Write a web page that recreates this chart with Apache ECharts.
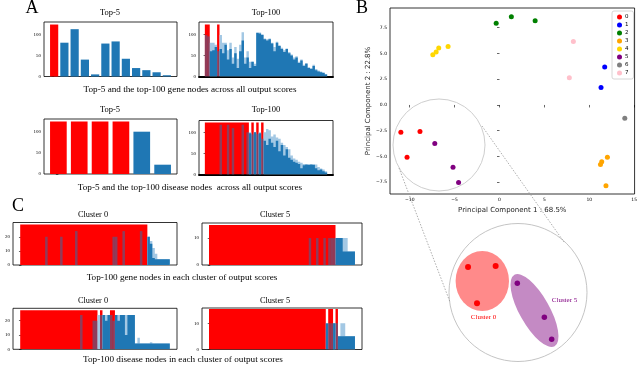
<!DOCTYPE html>
<html>
<head>
<meta charset="utf-8">
<script src="https://cdn.jsdelivr.net/npm/echarts@6/dist/echarts.min.js"></script>
<style>
  html, body { margin: 0; padding: 0; background: #fff; }
  #main { width: 640px; height: 367px; }
</style>
</head>
<body>
<div id="main"></div>
<script>
// ---- panel A: top-5 / top-100 bars ----
const geneTop5Red  = [123, 0, 0, 0, 0, 0, 0, 0, 0, 0, 0, 0];
const geneTop5Blue = [0, 80, 112, 40, 5, 78, 83, 42, 20, 15, 10, 3];

const disTop5Red  = [124, 124, 124, 124, 0, 0];
const disTop5Blue = [0, 0, 0, 0, 100, 22];

const geneTop100Red = [
  123, 123, 0, 0, 0, 123, 0, 0, 0, 0,
  0, 0, 0, 0, 0, 0, 0, 0, 0, 0,
  0, 0, 0, 0, 0, 0, 0, 0, 0, 0,
  0, 0, 0, 0, 0, 0, 0, 0, 0, 0,
  0, 0, 0, 0, 0, 0, 0, 0, 0, 0];
const geneTop100Dark = [
  98, 95, 60, 62, 70, 60, 65, 55, 75, 40,
  65, 30, 55, 20, 60, 85, 30, 45, 20, 35,
  25, 103, 102, 98, 88, 85, 88, 78, 60, 80,
  72, 65, 58, 65, 55, 50, 40, 45, 32, 38,
  25, 30, 20, 18, 25, 15, 12, 10, 8, 5];
const geneTop100Light = [
  0, 0, 80, 80, 75, 0, 98, 80, 80, 62,
  80, 45, 70, 42, 75, 105, 45, 60, 35, 35,
  30, 105, 104, 100, 90, 88, 90, 80, 70, 82,
  74, 68, 62, 66, 58, 52, 45, 48, 35, 40,
  28, 32, 22, 20, 28, 18, 14, 12, 10, 6];

const disTop100Red = [
  123, 123, 123, 123, 123, 123, 123, 123, 123, 123,
  123, 123, 123, 123, 123, 123, 123, 123, 0, 123,
  0, 123, 0, 123, 0, 0, 0, 0, 0, 0,
  0, 0, 0, 0, 0, 0, 0, 0, 0, 0,
  0, 0, 0, 0, 0, 0, 0, 0, 0, 0];
const disTop100Dark = [
  0, 0, 0, 0, 0, 0, 118, 0, 0, 118,
  0, 110, 0, 0, 0, 118, 0, 100, 98, 95,
  100, 96, 98, 85, 80, 70, 85, 75, 65, 80,
  55, 70, 45, 60, 40, 35, 30, 28, 25, 15,
  22, 24, 23, 24, 23, 15, 10, 12, 8, 5];
const disTop100Light = [
  0, 0, 0, 0, 0, 0, 0, 0, 0, 0,
  0, 0, 0, 0, 0, 0, 0, 0, 100, 0,
  100, 0, 100, 0, 100, 108, 105, 90, 95, 88,
  85, 75, 70, 65, 60, 45, 38, 35, 30, 28,
  25, 24, 24, 24, 24, 24, 18, 14, 12, 8];

// ---- panel C: top-100 per cluster ----
const c0GeneRed = [
  28.7, 28.7, 28.7, 28.7, 28.7, 28.7, 28.7, 28.7, 28.7, 28.7,
  28.7, 28.7, 28.7, 28.7, 28.7, 28.7, 28.7, 28.7, 28.7, 28.7,
  28.7, 28.7, 28.7, 28.7, 28.7, 28.7, 28.7, 28.7, 28.7, 28.7,
  28.7, 28.7, 28.7, 28.7, 28.7, 28.7, 28.7, 28.7, 28.7, 28.7,
  28.7, 28.7, 28.7, 28.7, 28.7, 28.7, 28.7, 28.7, 28.7, 28.7,
  28.7, 0, 0, 0, 0, 0, 0, 0, 0, 0];
const c0GeneDark = [
  0, 0, 0, 0, 0, 0, 0, 0, 0, 0,
  20, 0, 0, 0, 0, 0, 20, 0, 0, 0,
  0, 0, 24, 0, 0, 0, 0, 0, 0, 0,
  0, 0, 0, 0, 0, 0, 0, 20, 20, 0,
  0, 24, 0, 0, 0, 0, 0, 0, 24, 0,
  0, 20, 15, 5, 4, 4, 4, 4, 4, 4];
const c0GeneLight = [
  0, 0, 0, 0, 0, 0, 0, 0, 0, 0,
  0, 0, 0, 0, 0, 0, 0, 0, 0, 0,
  0, 0, 0, 0, 0, 0, 0, 0, 0, 0,
  0, 0, 0, 0, 0, 0, 0, 0, 0, 0,
  0, 0, 0, 0, 0, 0, 0, 0, 0, 0,
  0, 20, 17, 12, 8, 4, 4, 4, 4, 4];

const c5GeneRed = [
  14.9, 14.9, 14.9, 14.9, 14.9, 14.9, 14.9, 14.9, 14.9, 14.9,
  14.9, 14.9, 14.9, 14.9, 14.9, 14.9, 14.9, 14.9, 14.9, 14.9,
  14.9, 14.9, 14.9, 14.9, 14.9, 14.9, 14.9, 14.9, 14.9, 14.9,
  14.9, 14.9, 14.9, 14.9, 14.9, 14.9, 14.9, 14.9, 14.9, 14.9,
  14.9, 14.9, 14.9, 14.9, 14.9, 14.9, 14.9, 14.9, 14.9, 14.9,
  14.9, 14.9, 0, 0, 0, 0, 0, 0, 0, 0];
const c5GeneDark = [
  0, 0, 0, 0, 0, 0, 0, 0, 0, 0,
  0, 0, 0, 0, 0, 0, 0, 0, 0, 0,
  0, 0, 0, 0, 0, 0, 0, 0, 0, 0,
  0, 0, 0, 0, 0, 0, 0, 0, 0, 0,
  0, 10, 0, 0, 10, 0, 0, 10, 0, 10,
  10, 10, 10, 10, 10, 5, 5, 5, 5, 5];
const c5GeneLight = [
  0, 0, 0, 0, 0, 0, 0, 0, 0, 0,
  0, 0, 0, 0, 0, 0, 0, 0, 0, 0,
  0, 0, 0, 0, 0, 0, 0, 0, 0, 0,
  0, 0, 0, 0, 0, 0, 0, 0, 0, 0,
  0, 0, 0, 0, 0, 0, 0, 0, 0, 0,
  0, 0, 0, 0, 0, 10, 10, 5, 5, 5];

const c0DisRed = [
  27.3, 27.3, 27.3, 27.3, 27.3, 27.3, 27.3, 27.3, 27.3, 27.3,
  27.3, 27.3, 27.3, 27.3, 27.3, 27.3, 27.3, 27.3, 27.3, 27.3,
  27.3, 27.3, 27.3, 27.3, 27.3, 27.3, 27.3, 27.3, 27.3, 27.3,
  27.3, 0, 27.3, 0, 0, 0, 27.3, 27.3, 0, 0,
  0, 0, 0, 0, 0, 0, 0, 0, 0, 0,
  0, 0, 0, 0, 0, 0, 0, 0, 0, 0];
const c0DisDark = [
  0, 0, 0, 0, 0, 0, 0, 0, 0, 0,
  0, 0, 0, 0, 0, 0, 0, 0, 0, 0,
  0, 0, 0, 0, 24, 0, 0, 0, 0, 20,
  20, 0, 24, 24, 20, 24, 24, 20, 24, 20,
  24, 24, 10, 24, 24, 24, 4, 4, 4, 4,
  4, 4, 4, 4, 4, 4, 4, 4, 4, 4];
const c0DisLight = [
  0, 0, 0, 0, 0, 0, 0, 0, 0, 0,
  0, 0, 0, 0, 0, 0, 0, 0, 0, 0,
  0, 0, 0, 0, 0, 0, 0, 0, 0, 0,
  0, 24, 0, 24, 24, 24, 0, 0, 24, 24,
  24, 24, 24, 24, 24, 24, 4, 8, 4, 4,
  4, 4, 5, 4, 4, 4, 4, 4, 4, 4];

const c5DisRed = [
  15.4, 15.4, 15.4, 15.4, 15.4, 15.4, 15.4, 15.4, 15.4, 15.4,
  15.4, 15.4, 15.4, 15.4, 15.4, 15.4, 15.4, 15.4, 15.4, 15.4,
  15.4, 15.4, 15.4, 15.4, 15.4, 15.4, 15.4, 15.4, 15.4, 15.4,
  15.4, 15.4, 15.4, 15.4, 15.4, 15.4, 15.4, 15.4, 15.4, 15.4,
  15.4, 15.4, 15.4, 15.4, 15.4, 15.4, 15.4, 15.4, 0, 15.4,
  15.4, 0, 15.4, 0, 0, 0, 0, 0, 0, 0];
const c5DisDark = [
  0, 0, 0, 0, 0, 0, 0, 0, 0, 0,
  0, 0, 0, 0, 0, 0, 0, 0, 0, 0,
  0, 0, 0, 0, 0, 0, 0, 0, 0, 0,
  0, 0, 0, 0, 0, 0, 0, 0, 0, 0,
  0, 0, 0, 0, 0, 0, 0, 0, 10, 10,
  10, 10, 10, 5, 5, 5, 5, 5, 5, 5];
const c5DisLight = [
  0, 0, 0, 0, 0, 0, 0, 0, 0, 0,
  0, 0, 0, 0, 0, 0, 0, 0, 0, 0,
  0, 0, 0, 0, 0, 0, 0, 0, 0, 0,
  0, 0, 0, 0, 0, 0, 0, 0, 0, 0,
  0, 0, 0, 0, 0, 0, 0, 0, 0, 0,
  0, 10, 0, 5, 10, 10, 5, 5, 5, 5];

// ---- panel B: PCA scatter ----
const clusterNames = ['0', '1', '2', '3', '4', '5', '6', '7'];
const clusterColors = ['#ff0000', '#0000ff', '#008000', '#ffa500', '#ffd700', '#800080', '#808080', '#ffc0cb'];
const cluster0 = [[-10.99, -2.64], [-8.86, -2.58], [-10.3, -5.07]];
const cluster1 = [[11.72, 3.68], [11.31, 1.70]];
const cluster2 = [[-0.37, 7.92], [1.32, 8.57], [3.97, 8.18]];
const cluster3 = [[12.02, -5.07], [11.39, -5.52], [11.25, -5.78], [11.86, -7.83]];
const cluster4 = [[-7.43, 4.88], [-7.06, 5.14], [-6.77, 5.53], [-5.73, 5.68]];
const cluster5 = [[-7.21, -3.74], [-5.18, -6.04], [-4.56, -7.53]];
const cluster6 = [[13.96, -1.28]];
const cluster7 = [[8.23, 6.17], [7.78, 2.64]];
const clusters = [cluster0, cluster1, cluster2, cluster3, cluster4, cluster5, cluster6, cluster7];
const pcaXTicks = [-10, -5, 0, 5, 10, 15];
const pcaYTicks = [-7.5, -5, -2.5, 0, 2.5, 5, 7.5];

// zoomed inset (schematic 0..10 box)
const insetCluster0 = [[1.38, 6.83], [3.38, 6.91], [2.03, 4.22]];
const insetCluster5 = [[4.95, 5.66], [6.91, 3.22], [7.44, 1.63]];

const RED = '#ff0000';
const BLUE = '#1f77b4';
const LIGHT = '#a3c8e4';
const OVER_RED = 'rgba(31,119,180,0.5)';
const SERIF = '"Liberation Serif", "DejaVu Serif", serif';
const SANS = '"DejaVu Sans", sans-serif';

const panels = [
  { left: 44, top: 22, width: 133, height: 54.5, yMax: 129, ticks: [0, 50, 100], fill: 0.8, red: geneTop5Red, dark: geneTop5Blue, light: null },
  { left: 199, top: 22, width: 134, height: 54.5, yMax: 129, ticks: [0, 50, 100], fill: 1, red: geneTop100Red, dark: geneTop100Dark, light: geneTop100Light, thick: true },
  { left: 44, top: 119, width: 133, height: 55, yMax: 130, ticks: [0, 50, 100], fill: 0.8, red: disTop5Red, dark: disTop5Blue, light: null },
  { left: 199, top: 120.5, width: 134, height: 54, yMax: 128, ticks: [0, 50, 100], fill: 1, red: disTop100Red, dark: disTop100Dark, light: disTop100Light, thick: true },
  { left: 13, top: 222.5, width: 164, height: 42.5, yMax: 30.1, ticks: [0, 10, 20], fill: 1, red: c0GeneRed, dark: c0GeneDark, light: c0GeneLight },
  { left: 202, top: 223, width: 160, height: 42, yMax: 15.6, ticks: [0, 10], fill: 1, red: c5GeneRed, dark: c5GeneDark, light: c5GeneLight },
  { left: 13, top: 308.3, width: 164, height: 41, yMax: 28.7, ticks: [0, 10, 20], fill: 1, red: c0DisRed, dark: c0DisDark, light: c0DisLight },
  { left: 202, top: 308, width: 160, height: 41.5, yMax: 15.8, ticks: [0, 10], fill: 1, red: c5DisRed, dark: c5DisDark, light: c5DisLight }
];

const grid = [], xAxis = [], yAxis = [], series = [];

function pairs(values, keep) {
  return values.map((v, k) => [k, v]).filter(d => d[1] > 0 && keep(d[0]));
}

panels.forEach((p, i) => {
  const n = p.red.length;
  const dense = p.fill >= 1;
  // matplotlib-like margins around the bars
  const min = -0.4 - 0.05 * (n - 0.2);
  const max = n - 0.6 + 0.05 * (n - 0.2);
  const bw = p.width / (max - min) * p.fill;
  grid.push({ left: p.left, top: p.top, width: p.width, height: p.height, show: true, borderColor: '#000', borderWidth: 0.8 });
  xAxis.push({
    gridIndex: i, type: 'value', min: min, max: max,
    axisLine: { show: !!p.thick, onZero: false, lineStyle: { color: '#000', width: 2 } },
    axisTick: { show: false }, axisLabel: { show: false }, splitLine: { show: false }
  });
  yAxis.push({
    gridIndex: i, type: 'value', min: 0, max: p.yMax,
    axisLine: { show: false },
    axisTick: { show: true, length: 2.5, customValues: p.ticks, lineStyle: { color: '#000', width: 0.6 } },
    axisLabel: { customValues: p.ticks, fontSize: 5, color: '#000', margin: 3, fontFamily: SERIF },
    splitLine: { show: false }
  });
  // dense panels use large mode: one path per series, so neighbouring bars merge without seams
  const base = { type: 'bar', xAxisIndex: i, yAxisIndex: i, barWidth: bw, barGap: '-100%', silent: true,
    large: dense, largeThreshold: 1 };
  const all = () => true;
  series.push(Object.assign({}, base, { data: pairs(p.red, all), itemStyle: { color: RED } }));
  if (p.light) {
    series.push(Object.assign({}, base, { data: pairs(p.light, all), itemStyle: { color: LIGHT } }));
  }
  series.push(Object.assign({}, base, { data: pairs(p.dark, k => !(p.red[k] > 0)), itemStyle: { color: BLUE } }));
  series.push(Object.assign({}, base, { large: false, data: pairs(p.dark, k => p.red[k] > 0), itemStyle: { color: OVER_RED } }));
});

// PCA scatter grid
const sIdx = grid.length;
grid.push({ left: 390, top: 8, width: 247, height: 186, show: true, borderColor: '#000', borderWidth: 0.8 });
xAxis.push({
  gridIndex: sIdx, type: 'value', min: -12.2, max: 15.05,
  name: 'Principal Component 1 : 68.5%', nameLocation: 'middle', nameGap: 11,
  nameTextStyle: { fontSize: 7, fontFamily: SANS, color: '#222' },
  axisLine: { show: false },
  axisTick: { length: 2.5, customValues: pcaXTicks, lineStyle: { color: '#000', width: 0.6 } },
  axisLabel: { customValues: pcaXTicks, fontSize: 4.5, margin: 3, color: '#000', fontFamily: SANS,
    formatter: v => String(v).replace('-', '\u2212') },
  splitLine: { show: false }
});
yAxis.push({
  gridIndex: sIdx, type: 'value', min: -8.64, max: 9.41,
  name: 'Principal Component 2 : 22.8%', nameLocation: 'middle', nameGap: 17, nameRotate: 90,
  nameTextStyle: { fontSize: 7, fontFamily: SANS, color: '#222' },
  axisLine: { show: false },
  axisTick: { length: 2.5, customValues: pcaYTicks, lineStyle: { color: '#000', width: 0.6 } },
  axisLabel: { customValues: pcaYTicks, fontSize: 4.5, margin: 3, color: '#000', fontFamily: SANS,
    formatter: v => v.toFixed(1).replace('-', '\u2212') },
  splitLine: { show: false }
});
clusters.forEach((pts, c) => {
  series.push({
    type: 'scatter', name: clusterNames[c], xAxisIndex: sIdx, yAxisIndex: sIdx,
    data: pts, symbolSize: 5, itemStyle: { color: clusterColors[c], opacity: 1 }, silent: true
  });
});

// inset grid (magnified view)
const iIdx = grid.length;
grid.push({ left: 449, top: 223, width: 138, height: 139, show: false });
xAxis.push({ gridIndex: iIdx, type: 'value', min: 0, max: 10, show: false });
yAxis.push({ gridIndex: iIdx, type: 'value', min: 0, max: 10, show: false });
series.push({ type: 'scatter', xAxisIndex: iIdx, yAxisIndex: iIdx, data: insetCluster0, symbolSize: 6, itemStyle: { color: RED, opacity: 1 }, z: 5, silent: true });
series.push({ type: 'scatter', xAxisIndex: iIdx, yAxisIndex: iIdx, data: insetCluster5, symbolSize: 5.5, itemStyle: { color: '#800080', opacity: 1 }, z: 5, silent: true });

function label(text, x, y, size, opts) {
  return {
    type: 'text', x: x, y: y, silent: true,
    style: Object.assign({ text: text, font: size + 'px ' + SERIF, fill: '#000',
      textAlign: 'center', textVerticalAlign: 'middle', verticalAlign: 'middle' }, opts || {})
  };
}

const graphic = [
  label('A', 32, 8, 18),
  label('B', 362, 8, 18),
  label('C', 18, 206, 18),
  label('Top-5', 110, 13, 8.5),
  label('Top-100', 266, 13, 8.5),
  label('Top-5 and the top-100 gene nodes across all output scores', 190, 90, 9.2),
  label('Top-5', 110, 110, 8.5),
  label('Top-100', 266, 110, 8.5),
  label('Top-5 and the top-100 disease nodes  across all output scores', 190, 188, 9.2),
  label('Cluster 0', 93, 215, 8.3),
  label('Cluster 5', 275, 215, 8.3),
  label('Top-100 gene nodes in each cluster of output scores', 182, 277.5, 9.2),
  label('Cluster 0', 93, 300.5, 8.3),
  label('Cluster 5', 275, 300.5, 8.3),
  label('Top-100 disease nodes in each cluster of output scores', 183, 360, 9.2),
  // zoom circles and connectors
  { type: 'circle', shape: { cx: 439, cy: 145, r: 46 }, style: { fill: 'none', stroke: '#c8c8c8', lineWidth: 0.9 }, silent: true },
  { type: 'circle', shape: { cx: 518, cy: 292.5, r: 69 }, style: { fill: 'none', stroke: '#bdbdbd', lineWidth: 0.9 }, silent: true },
  { type: 'line', shape: { x1: 399, y1: 168, x2: 450, y2: 302 }, style: { stroke: '#999', lineWidth: 0.8, lineDash: [1.5, 1.5] }, silent: true },
  { type: 'line', shape: { x1: 482, y1: 126, x2: 564, y2: 242 }, style: { stroke: '#999', lineWidth: 0.8, lineDash: [1.5, 1.5] }, silent: true },
  { type: 'circle', x: 482.3, y: 281, scaleX: 26.7, scaleY: 30, shape: { cx: 0, cy: 0, r: 1 }, style: { fill: '#ff8a8a' }, silent: true, z: 1 },
  { type: 'circle', x: 534.5, y: 310.5, scaleX: 41, scaleY: 15, rotation: -1.058, shape: { cx: 0, cy: 0, r: 1 }, style: { fill: '#c48ac4' }, silent: true, z: 1 },
  label('Cluster 0', 483.5, 317.5, 7, { fill: '#ff0000' }),
  label('Cluster 5', 564.5, 300.5, 7, { fill: '#800080' })
];

const chart = echarts.init(document.getElementById('main'), null, { renderer: 'canvas' });
chart.setOption({
  animation: false,
  backgroundColor: '#fff',
  grid: grid,
  xAxis: xAxis,
  yAxis: yAxis,
  legend: {
    data: clusterNames, orient: 'vertical', left: 612, top: 11,
    itemWidth: 5, itemHeight: 5, itemGap: 2, icon: 'circle', selectedMode: false,
    textStyle: { fontSize: 5.5, fontFamily: SANS, color: '#000', padding: [0, 0, 0, -2] },
    padding: [3, 5, 3, 5], borderColor: '#ccc', borderWidth: 0.8, borderRadius: 2, backgroundColor: '#fff'
  },
  series: series,
  graphic: graphic
});
</script>
</body>
</html>
